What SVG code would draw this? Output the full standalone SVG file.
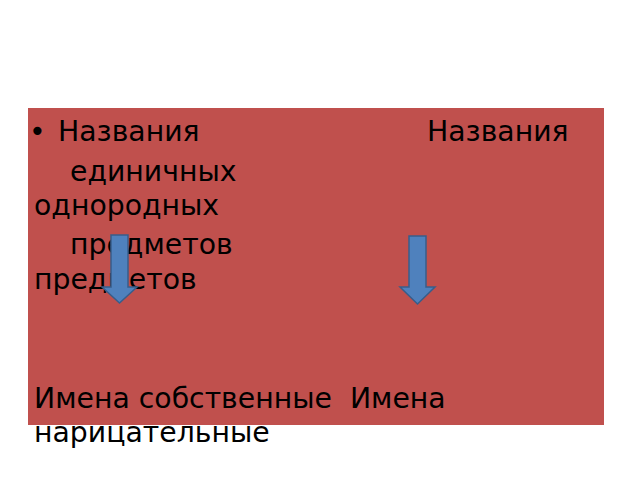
<svg xmlns="http://www.w3.org/2000/svg" width="640" height="480" viewBox="0 0 640 480">
<style>
text{font-family:"DejaVu Sans","Noto Sans",sans-serif;font-size:28.3px;fill:#000;white-space:pre}
.arrow{fill:#4f81bd;stroke:#385d8a;stroke-width:1.5}
</style>
<rect width="640" height="480" fill="#fff"/>
<g id="box">
<rect x="28" y="108" width="576" height="317" fill="#c0504d"/>
</g>
<g id="text">
<text x="29" y="141">•</text>
<text x="58" y="141">Названия</text>
<text x="427" y="141">Названия</text>
<text x="70" y="181">единичных</text>
<text x="34" y="215">однородных</text>
<text x="70" y="254">предметов</text>
<text x="34" y="289">предметов</text>
<text x="34" y="408" xml:space="preserve">Имена собственные  Имена</text>
<text x="34" y="442">нарицательные</text>
</g>
<g id="connectors">
<path class="arrow" d="M111,235 H128 V287 H137 L119.5,303 L102,287 H111 Z"/>
<path class="arrow" d="M409,236 H426 V287 H435 L417.5,304 L400,287 H409 Z"/>
</g>
</svg>
